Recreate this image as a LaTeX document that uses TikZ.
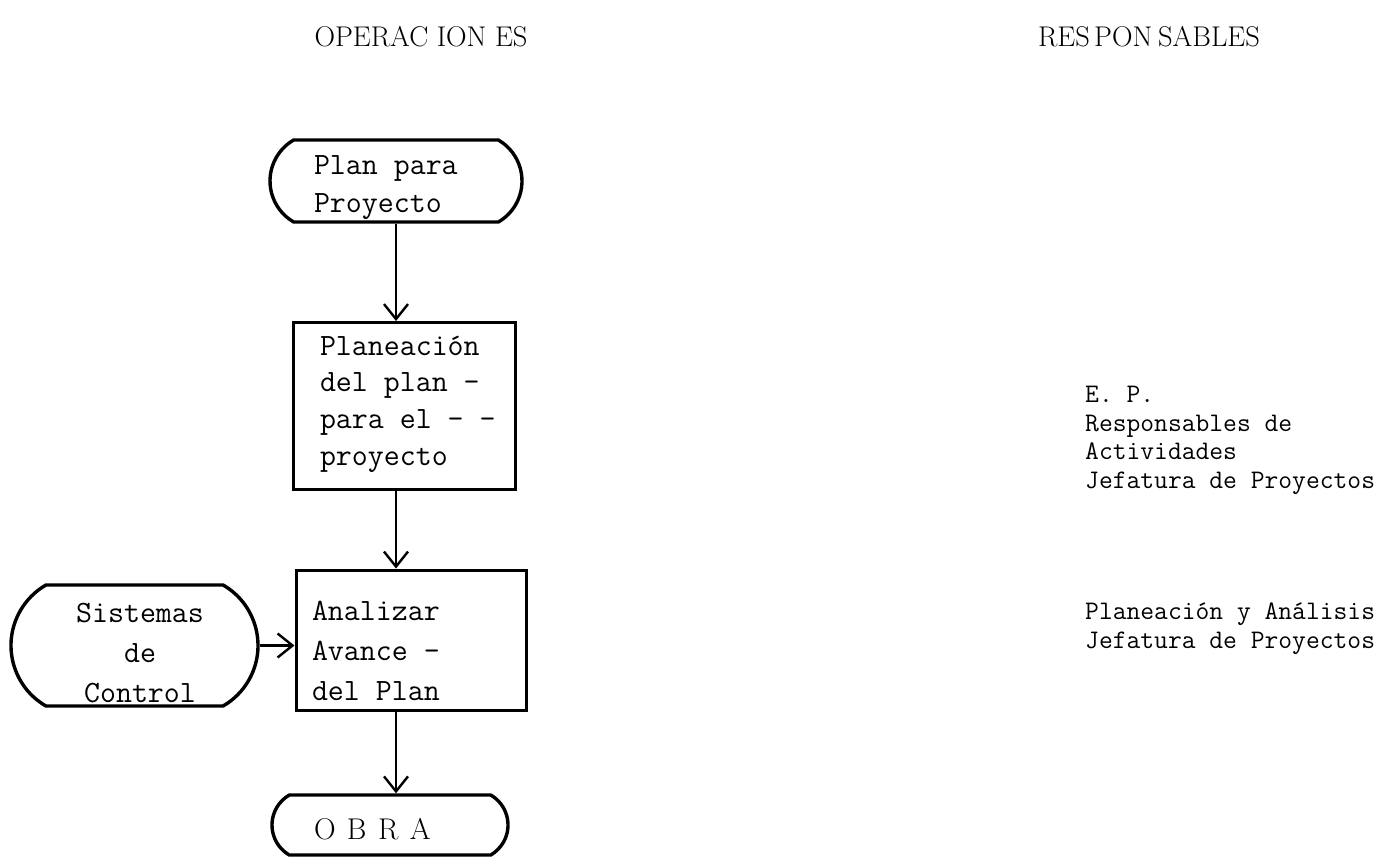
\documentclass[tikz,border=0pt]{standalone}
\usepackage{fontspec}
\usetikzlibrary{shapes.misc,arrows.meta,calc}
\newcommand{\mpbox}[3]{\begin{minipage}[c][#2][t]{#1}\parindent=0pt #3\end{minipage}}
\begin{document}
\begin{tikzpicture}[x=1pt,y=-1pt,
  every node/.style={inner sep=0pt},
  boxtext/.style={font=\ttfamily\fontsize{31}{38}\selectfont\addfontfeatures{FakeBold=1.5}},
  resptext/.style={font=\ttfamily\fontsize{26.8}{28.5}\selectfont\addfontfeatures{FakeBold=1.5}, align=left, anchor=north west},
  head/.style={font=\fontsize{28.5}{32}\selectfont\addfontfeatures{FakeBold=1.5}},
  procbox/.style={draw, line width=3pt, rectangle, boxtext},
  termbox/.style={draw, line width=3.4pt, rounded rectangle, rounded rectangle arc length=120, boxtext},
  arr/.style={line width=2.6pt, -{Straight Barb[length=15pt,width=24pt,line width=2.4pt]}}
]
\useasboundingbox (0,0) rectangle (1400,865);

\node[head] (hop) at (421,37) {OPERAC\kern0.3em ION\kern0.3em ES};
\node[head] (hres) at (1149,37) {RES\kern0.15em PON\kern0.2em SABLES};

\node[termbox, minimum width=252pt, minimum height=82pt] (t1) at (396,181)
  {\mpbox{180pt}{82pt}{\leftskip=8pt\baselineskip=38pt\vspace*{9pt}\rule{0pt}{25pt}Plan para\\Proyecto}};
\node[procbox, minimum width=222pt, minimum height=167pt] (b2) at (404,406)
  {\mpbox{222pt}{167pt}{\leftskip=27pt\baselineskip=36.7pt\vspace*{7.5pt}\rule{0pt}{25pt}Planeación\\del plan -\\para el - -\\proyecto}};
\node[procbox, minimum width=230pt, minimum height=140pt] (b3) at (411,640)
  {\mpbox{230pt}{140pt}{\leftskip=16pt\baselineskip=40pt\vspace*{25pt}\rule{0pt}{25pt}Analizar\\Avance -\\del Plan}};
\node[termbox, minimum width=247pt, minimum height=121pt] (sc) at (134.5,645.5)
  {\mpbox{170pt}{121pt}{\addfontfeatures{LetterSpace=4}\leftskip=11pt plus 1fil\rightskip=0pt plus 1fil\parfillskip=0pt\baselineskip=40pt\vspace*{12pt}\rule{0pt}{25pt}Sistemas\par de\par Control\par}};
\node[termbox, minimum width=236pt, minimum height=60pt, font=\rmfamily\fontsize{30}{36}\selectfont\addfontfeatures{FakeBold=1.5}] (ob) at (390,825)
  {\mpbox{180pt}{60pt}{\leftskip=14pt\vspace*{19pt}\rule{0pt}{25pt}O\kern0.38em B\kern0.38em R\kern0.38em A}};

\node[resptext] (r1) at (1085,386) {E. P.\\Responsables de\\Actividades\\Jefatura de Proyectos};
\node[resptext] (r2) at (1085,603) {Planeación y Análisis\\Jefatura de Proyectos};

\draw[arr] (t1.south) -- (t1.south |- b2.north);
\draw[arr] (t1.south |- b2.south) -- (t1.south |- b3.north);
\draw[arr] (sc.east) -- (sc.east -| b3.west);
\draw[arr] (t1.south |- b3.south) -- (t1.south |- ob.north);
\end{tikzpicture}
\end{document}
